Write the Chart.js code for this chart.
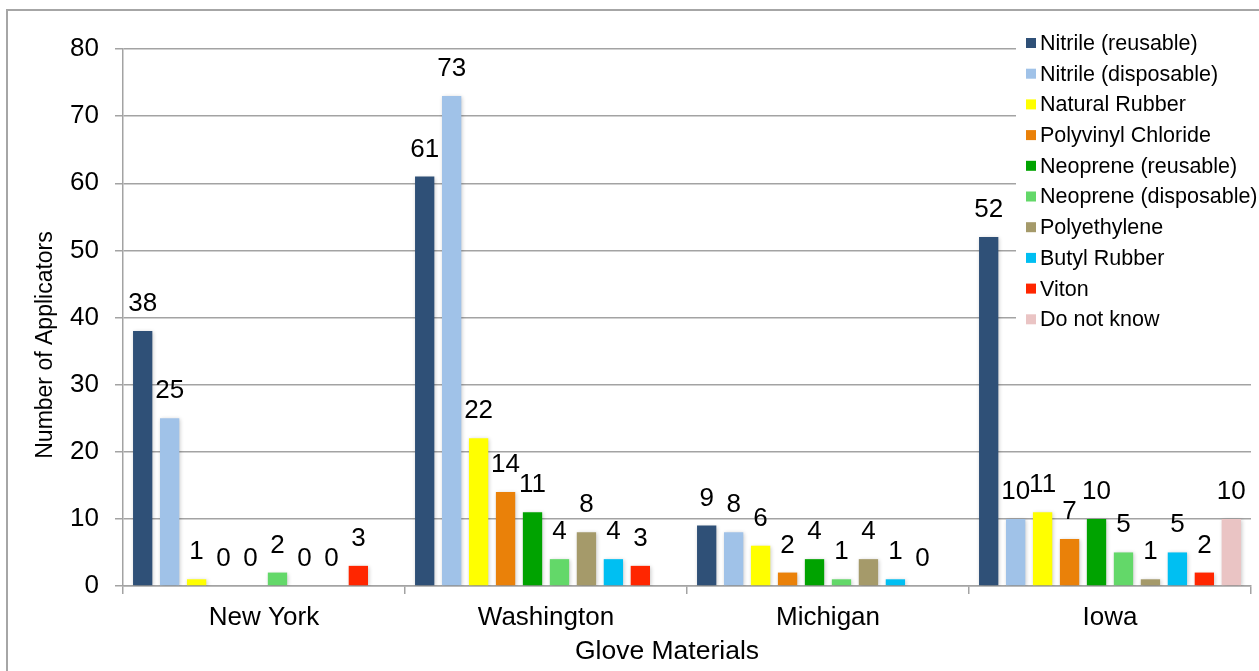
<!DOCTYPE html>
<html>
<head>
<meta charset="utf-8">
<title>Glove Materials</title>
<script src="https://cdn.jsdelivr.net/npm/chart.js@4.4.1/dist/chart.umd.min.js"></script>
<style>
  html, body { margin: 0; padding: 0; background: #fff; }
  #chart { display: block; }
</style>
</head>
<body>
<canvas id="chart" width="1259" height="671"></canvas>
<script>
const categories = ['New York', 'Washington', 'Michigan', 'Iowa'];
const seriesNames = [
    'Nitrile (reusable)', 'Nitrile (disposable)', 'Natural Rubber', 'Polyvinyl Chloride',
    'Neoprene (reusable)', 'Neoprene (disposable)', 'Polyethylene', 'Butyl Rubber',
    'Viton', 'Do not know'
];
const nitrileReusable = [38, 61, 9, 52];
const nitrileDisposable = [25, 73, 8, 10];
const naturalRubber = [1, 22, 6, 11];
const polyvinylChloride = [0, 14, 2, 7];
const neopreneReusable = [0, 11, 4, 10];
const neopreneDisposable = [2, 4, 1, 5];
const polyethylene = [0, 8, 4, 1];
const butylRubber = [0, 4, 1, 5];
const viton = [3, 3, 0, 2];
const doNotKnow = [null, null, null, 10];
const yTicks = [0, 10, 20, 30, 40, 50, 60, 70, 80];

const colors = ['#2f5077', '#a0c2e8', '#ffff00', '#ea8109', '#00a300',
                '#63d869', '#a59a6a', '#00bff2', '#ff2600', '#eac4c4'];
const seriesValues = [nitrileReusable, nitrileDisposable, naturalRubber, polyvinylChloride,
    neopreneReusable, neopreneDisposable, polyethylene, butylRubber, viton, doNotKnow];

const FONT = 'Liberation Sans, Arial, sans-serif';
const GRID = '#a3a3a3';

// frame + bar shadow
const framePlugin = {
    id: 'frame',
    beforeDraw(chart) {
        const c = chart.ctx;
        c.save();
        c.fillStyle = '#fff';
        c.fillRect(0, 0, chart.width, chart.height);
        c.strokeStyle = '#a6a6a6';
        c.lineWidth = 2;
        c.strokeRect(7, 10, 1300, 700);
        c.restore();
    },
    beforeDatasetsDraw(chart) {
        const c = chart.ctx;
        c.save();
        c.shadowColor = 'rgba(0,0,0,0.22)';
        c.shadowBlur = 4;
        c.shadowOffsetX = 1;
        c.shadowOffsetY = 1;
    },
    afterDatasetsDraw(chart) {
        chart.ctx.restore();
    }
};

// value labels above bars
const valueLabels = {
    id: 'valueLabels',
    afterDatasetsDraw(chart) {
        const c = chart.ctx;
        c.save();
        c.font = '26px ' + FONT;
        c.fillStyle = '#000';
        c.textAlign = 'center';
        c.textBaseline = 'alphabetic';
        chart.data.datasets.forEach((ds, i) => {
            const meta = chart.getDatasetMeta(i);
            meta.data.forEach((bar, j) => {
                const v = ds.data[j];
                if (v === null || v === undefined) return;
                c.fillText(String(v), bar.x, bar.y - 20);
            });
        });
        c.restore();
    }
};

// legend box overlapping the plot + axis titles
const sideLegend = {
    id: 'sideLegend',
    afterDraw(chart) {
        const c = chart.ctx;
        c.save();
        c.fillStyle = '#fff';
        c.fillRect(1016, 27, 250, 308);
        c.font = '21.5px ' + FONT;
        c.textAlign = 'left';
        c.textBaseline = 'middle';
        chart.data.datasets.forEach((ds, i) => {
            const y = 43 + i * 30.7;
            c.fillStyle = ds.backgroundColor;
            c.fillRect(1026, y - 5, 10, 10);
            c.fillStyle = '#000';
            c.fillText(ds.label, 1040, y + 1);
        });
        c.font = '26.5px ' + FONT;
        c.textAlign = 'center';
        c.fillText('Glove Materials', 667, 652);
        c.translate(46, 345);
        c.rotate(-Math.PI / 2);
        c.font = '23px ' + FONT;
        c.fillText('Number of Applicators', 0, 0);
        c.restore();
    }
};

const ctx = document.getElementById('chart').getContext('2d');
const chart = new Chart(ctx, {
    type: 'bar',
    data: {
        labels: categories,
        datasets: seriesNames.map((name, i) => ({
            label: name,
            data: seriesValues[i],
            backgroundColor: colors[i],
            borderWidth: 0,
            categoryPercentage: 0.956,
            barPercentage: 0.716
        }))
    },
    options: {
        responsive: false,
        animation: false,
        layout: { padding: { left: 31, top: 49, right: 8, bottom: 0 } },
        plugins: {
            legend: { display: false },
            tooltip: { enabled: false }
        },
        scales: {
            x: {
                afterFit(scale) { scale.height = 85; },
                grid: {
                    drawOnChartArea: false,
                    drawTicks: true,
                    tickLength: 8,
                    color: GRID,
                    lineWidth: 1.5
                },
                border: { display: true, color: GRID, width: 1.5 },
                ticks: {
                    color: '#000',
                    font: { family: FONT, size: 26 },
                    padding: 8
                }
            },
            y: {
                min: 0,
                max: 80,
                afterFit(scale) { scale.width = 92; },
                afterBuildTicks(scale) { scale.ticks = yTicks.map(v => ({ value: v })); },
                grid: {
                    color: GRID,
                    lineWidth: 1.5,
                    drawTicks: true,
                    tickLength: 8
                },
                border: { display: true, color: GRID, width: 1.5 },
                ticks: {
                    color: '#000',
                    font: { family: FONT, size: 26 },
                    padding: 16
                }
            }
        }
    },
    plugins: [framePlugin, valueLabels, sideLegend]
});
</script>
</body>
</html>
